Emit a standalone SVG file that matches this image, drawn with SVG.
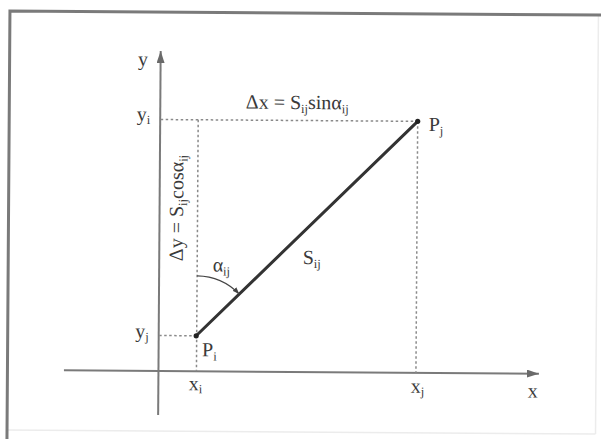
<svg xmlns="http://www.w3.org/2000/svg" width="601" height="441" viewBox="0 0 601 441">
<defs>
<style>
.t{font-family:"Liberation Serif","Times New Roman",serif;font-size:20px;fill:#3a3a3a}
.s{font-size:12.5px}
.ax{stroke:#7a7a7a;stroke-width:2;fill:none}
.dot{stroke:#8a8a8a;stroke-width:1.5;stroke-dasharray:2.5 2.5;fill:none}
.main{stroke:#333;stroke-width:3;fill:none;stroke-linecap:round}
</style>
<marker id="axh" viewBox="0 0 12 8" refX="12" refY="4" markerWidth="12" markerHeight="8" markerUnits="userSpaceOnUse" orient="auto">
<path d="M0,0 L12,4 L0,8 Z" fill="#6a6a6a"/>
</marker>
<marker id="arc" viewBox="0 0 8 6" refX="8" refY="3" markerWidth="7" markerHeight="6" markerUnits="userSpaceOnUse" orient="auto">
<path d="M0,0 L8,3 L0,6 Z" fill="#444"/>
</marker>
</defs>
<rect width="601" height="441" fill="#fff"/>
<g transform="rotate(0.4 300 220)">
<g id="frame">
<path d="M597,432 L597,13 M8.5,432 L597,432" stroke="#ececec" stroke-width="1.5" fill="none"/>
<path d="M8.5,441 L8.5,13 L610,13" stroke="#7a7a7a" stroke-width="3" fill="none"/>
</g>
<g id="connectors">
<line class="ax" x1="159.5" y1="416" x2="159.5" y2="52" marker-end="url(#axh)"/>
<line class="ax" x1="65" y1="372" x2="540" y2="372" marker-end="url(#axh)"/>
<path class="dot" d="M160,120.5 L417,120.5 M197.5,120.5 L197.5,372 M417,120.5 L417,372 M160,336.5 L197,336.5"/>
<line id="Sij" class="main" x1="197" y1="336.5" x2="417" y2="120.5"/>
<path d="M197.5,276.5 A60,60 0 0,1 239.8,294.5" stroke="#444" stroke-width="1.3" fill="none" marker-end="url(#arc)"/>
</g>
<g id="node-Pi">
<circle cx="197" cy="336.5" r="2.6" fill="#222"/>
<text class="t" x="203" y="357">P<tspan class="s" dy="4">i</tspan></text>
</g>
<g id="node-Pj">
<circle cx="417" cy="120.5" r="2.6" fill="#222"/>
<text class="t" x="428" y="130">P<tspan class="s" dy="4">j</tspan></text>
</g>
<g id="labels">
<text class="t" x="137" y="67">y</text>
<text class="t" x="529" y="396">x</text>
<text class="t" x="136" y="122">y<tspan class="s" dy="3">i</tspan></text>
<text class="t" x="136" y="339">y<tspan class="s" dy="3">j</tspan></text>
<text class="t" x="190" y="391">x<tspan class="s" dy="3">i</tspan></text>
<text class="t" x="412" y="392">x<tspan class="s" dy="3">j</tspan></text>
<text class="t" x="303" y="264">S<tspan class="s" dy="4">ij</tspan></text>
<text class="t" x="213" y="272">α<tspan class="s" dy="4">ij</tspan></text>
<text class="t" x="245" y="109">Δx = S<tspan class="s" dy="4">ij</tspan><tspan dy="-4">sinα</tspan><tspan class="s" dy="4">ij</tspan></text>
<text class="t" transform="translate(183 262) rotate(-90)">Δy = S<tspan class="s" dy="4">ij</tspan><tspan dy="-4">cosα</tspan><tspan class="s" dy="4">ij</tspan></text>
</g>
</g>
</svg>
